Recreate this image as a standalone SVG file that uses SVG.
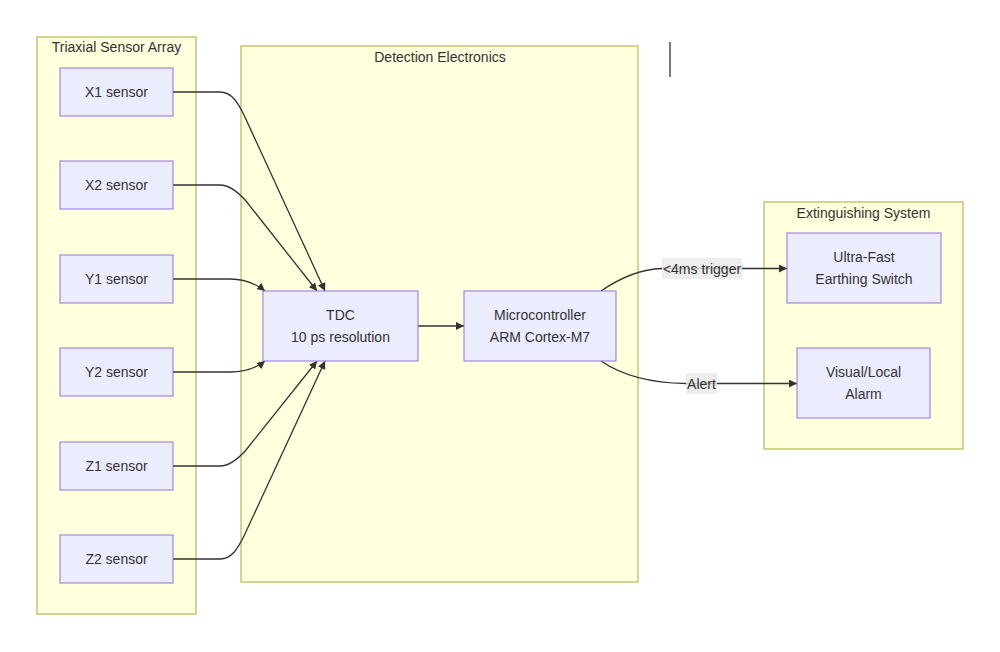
<svg xmlns="http://www.w3.org/2000/svg" width="1000" height="652" viewBox="0 0 1000 652">
<style>
.cluster{fill:#ffffde;stroke:#aaaa33;stroke-width:1}
.node{fill:#ECECFF;stroke:#9370DB;stroke-width:1}
text{font-family:"Liberation Sans",Arial,sans-serif;font-size:14px;fill:#333333;text-anchor:middle;dominant-baseline:central}
.edge{fill:none;stroke:#333333;stroke-width:1.3}
.lbl{fill:#e8e8e8;fill-opacity:0.8}
</style>
<defs>
<marker id="arrow" viewBox="0 0 10 10" refX="10" refY="5" markerWidth="8" markerHeight="8" markerUnits="userSpaceOnUse" orient="auto">
<path d="M0,0 L10,5 L0,10 z" fill="#333333"/>
</marker>
</defs>
<rect width="1000" height="652" fill="#ffffff"/>
<g id="cluster-sensors"><rect class="cluster" x="37" y="37" width="159" height="577"/><text x="116.5" y="47">Triaxial Sensor Array</text></g>
<g id="cluster-electronics"><rect class="cluster" x="241" y="46" width="397" height="536"/><text x="440" y="57">Detection Electronics</text></g>
<g id="cluster-ext"><rect class="cluster" x="764" y="202" width="199" height="247"/><text x="863.5" y="213">Extinguishing System</text></g>
<line x1="670" y1="42" x2="670" y2="77" stroke="#333333" stroke-width="1.3"/>
<g id="connectors">
<path class="edge" marker-end="url(#arrow)" d="M173,92 L220,92 C232,92 238,103 244,115 L325,291"/>
<path class="edge" marker-end="url(#arrow)" d="M173,185 L220,185 C230,185 238,192 246,201 L317,291"/>
<path class="edge" marker-end="url(#arrow)" d="M173,279 L230,279 C245,279 255,283 265,291"/>
<path class="edge" marker-end="url(#arrow)" d="M173,372 L230,372 C245,372 255,369 265,361"/>
<path class="edge" marker-end="url(#arrow)" d="M173,466 L220,466 C230,466 238,459 246,450 L317,361"/>
<path class="edge" marker-end="url(#arrow)" d="M173,559 L220,559 C232,559 238,548 244,536 L325,361"/>
<path class="edge" marker-end="url(#arrow)" d="M418,326 L464,326"/>
<path class="edge" marker-end="url(#arrow)" d="M601,291 C620,278 640,269 662,268.5 L787,268.5"/>
<path class="edge" marker-end="url(#arrow)" d="M601,361 C620,374 645,383 686,383.5 L797,383.5"/>
<rect class="lbl" x="662" y="258" width="80" height="21"/>
<text x="702" y="268.5">&lt;4ms trigger</text>
<rect class="lbl" x="686" y="373" width="31" height="21"/>
<text x="701.5" y="383.5">Alert</text>
</g>
<g id="X1"><rect class="node" x="60" y="68" width="113" height="48"/><text x="116.5" y="92">X1 sensor</text></g>
<g id="X2"><rect class="node" x="60" y="161" width="113" height="48"/><text x="116.5" y="185">X2 sensor</text></g>
<g id="Y1"><rect class="node" x="60" y="255" width="113" height="48"/><text x="116.5" y="279">Y1 sensor</text></g>
<g id="Y2"><rect class="node" x="60" y="348" width="113" height="48"/><text x="116.5" y="372">Y2 sensor</text></g>
<g id="Z1"><rect class="node" x="60" y="442" width="113" height="48"/><text x="116.5" y="466">Z1 sensor</text></g>
<g id="Z2"><rect class="node" x="60" y="535" width="113" height="48"/><text x="116.5" y="559">Z2 sensor</text></g>
<g id="TDC"><rect class="node" x="263" y="291" width="155" height="70"/><text x="340.5" y="315">TDC</text><text x="340.5" y="337">10 ps resolution</text></g>
<g id="MCU"><rect class="node" x="464" y="291" width="152" height="70"/><text x="540" y="315">Microcontroller</text><text x="540" y="337">ARM Cortex-M7</text></g>
<g id="Switch"><rect class="node" x="787" y="233" width="154" height="70"/><text x="864" y="257">Ultra-Fast</text><text x="864" y="279">Earthing Switch</text></g>
<g id="Alarm"><rect class="node" x="797" y="348" width="133" height="70"/><text x="863.5" y="372">Visual/Local</text><text x="863.5" y="394">Alarm</text></g>
</svg>
